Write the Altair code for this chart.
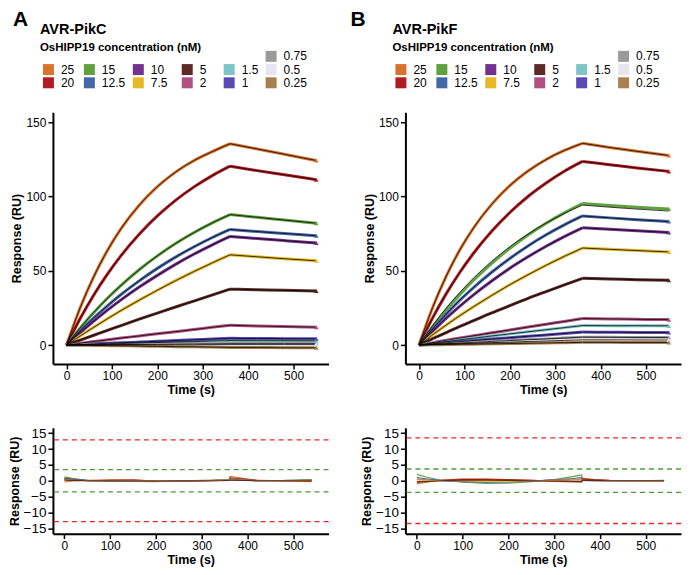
import altair as alt
import pandas as pd

# ---------------- categories / colours ----------------
CONC = ["25", "20", "15", "12.5", "10", "7.5", "5", "2", "1.5", "1", "0.75", "0.5", "0.25"]
COLORS = ["#D9722B", "#B01C22", "#5FA03F", "#4467A7", "#73308C", "#E5B928", "#5C2B27",
          "#B0507F", "#7DC5C7", "#5A4AB5", "#9A9A9A", "#E6E6F0", "#A97F4F"]
LEGEND_COL = [0, 0, 1, 1, 2, 2, 3, 3, 4, 4, 5, 5, 5]
LEGEND_ROW = [1, 2, 1, 2, 1, 2, 1, 2, 1, 2, 0, 1, 2]

# ---------------- sensorgrams (time in s, response in RU) ----------------
TIME = [0, 30, 60, 90, 120, 160, 200, 240, 280, 320, 360, 420, 480, 550]
INJECTION_END = 360

PIKC_25 = [0, 25.1, 46.1, 63.6, 78.3, 94.1, 106.6, 116.4, 124.1, 130.1, 135.5, 132.0, 128.4, 124.2]
PIKC_20 = [0, 17.8, 33.7, 47.7, 60.2, 74.6, 86.9, 97.4, 106.3, 113.9, 120.4, 117.4, 114.6, 111.3]
PIKC_15 = [0, 11.5, 21.9, 31.5, 40.2, 50.7, 60.0, 68.3, 75.6, 82.1, 87.8, 86.0, 84.1, 82.0]
PIKC_12_5 = [0, 9.5, 18.3, 26.4, 34.0, 43.2, 51.6, 59.2, 66.0, 72.2, 77.8, 76.4, 75.1, 73.6]
PIKC_10 = [0, 8.3, 16.1, 23.5, 30.4, 39.0, 46.9, 54.3, 61.1, 67.3, 73.1, 71.7, 70.3, 68.7]
PIKC_7_5 = [0, 6.1, 12.0, 17.7, 23.2, 30.2, 36.9, 43.3, 49.4, 55.2, 60.7, 59.4, 58.1, 56.7]
PIKC_5 = [0, 3.3, 6.6, 9.9, 13.1, 17.4, 21.5, 25.6, 29.6, 33.6, 37.6, 37.2, 36.8, 36.4]
PIKC_2 = [0, 1.2, 2.4, 3.5, 4.7, 6.1, 7.6, 9.0, 10.4, 11.9, 13.3, 12.8, 12.4, 12.0]
PIKC_1_5 = [0, 0.3, 0.5, 0.8, 1.0, 1.3, 1.7, 2.0, 2.3, 2.7, 3.0, 2.9, 2.9, 2.8]
PIKC_1 = [0, 0.4, 0.8, 1.2, 1.5, 2.0, 2.5, 3.0, 3.5, 4.0, 4.5, 4.4, 4.3, 4.2]
PIKC_0_75 = [0, 0.1, 0.2, 0.3, 0.3, 0.4, 0.6, 0.7, 0.8, 0.9, 1.0, 1.0, 1.0, 1.0]
PIKC_0_5 = [0, 0.0, 0.1, 0.1, 0.1, 0.1, 0.2, 0.2, 0.2, 0.3, 0.3, 0.3, 0.3, 0.3]
PIKC_0_25 = [0, -0.1, -0.3, -0.4, -0.5, -0.7, -0.9, -1.1, -1.2, -1.4, -1.6, -1.7, -1.8, -1.9]

PIKF_25 = [0, 25.3, 46.4, 64.1, 78.8, 94.7, 107.3, 117.1, 124.9, 131.0, 135.8, 133.0, 130.4, 127.6]
PIKF_20 = [0, 18.3, 34.6, 49.0, 61.8, 76.6, 89.2, 100.0, 109.1, 117.0, 123.6, 121.4, 119.2, 116.9]
PIKF_15 = [0, 12.4, 23.8, 34.1, 43.6, 55.0, 65.1, 74.1, 82.0, 89.0, 95.3, 94.0, 92.8, 91.6]
PIKF_15_FIT = [0, 13.1, 24.9, 35.5, 45.1, 56.4, 66.2, 74.7, 82.1, 88.6, 94.2, 92.8, 91.5, 90.2]
PIKF_12_5 = [0, 10.9, 20.9, 30.2, 38.7, 49.0, 58.3, 66.7, 74.2, 80.9, 86.9, 85.6, 84.4, 83.1]
PIKF_10 = [0, 9.3, 18.1, 26.2, 33.8, 43.1, 51.7, 59.4, 66.5, 73.0, 78.9, 77.9, 76.9, 75.8]
PIKF_7_5 = [0, 6.9, 13.5, 19.8, 25.8, 33.4, 40.6, 47.3, 53.7, 59.7, 65.3, 64.4, 63.6, 62.7]
PIKF_5 = [0, 4.3, 8.4, 12.5, 16.4, 21.6, 26.5, 31.4, 36.0, 40.5, 44.9, 44.5, 44.0, 43.6]
PIKF_2 = [0, 1.6, 3.2, 4.7, 6.2, 8.2, 10.1, 12.1, 14.0, 15.9, 17.8, 17.6, 17.3, 17.1]
PIKF_1_5 = [0, 1.2, 2.3, 3.5, 4.6, 6.1, 7.5, 8.9, 10.3, 11.7, 13.1, 13.0, 13.0, 12.9]
PIKF_1 = [0, 0.8, 1.5, 2.3, 3.0, 4.0, 4.9, 5.9, 6.8, 7.8, 8.7, 8.6, 8.5, 8.4]
PIKF_0_75 = [0, 0.5, 0.9, 1.4, 1.8, 2.4, 3.0, 3.6, 4.1, 4.7, 5.3, 5.2, 5.1, 5.0]
PIKF_0_5 = [0, 0.3, 0.6, 0.9, 1.2, 1.6, 2.0, 2.4, 2.7, 3.1, 3.5, 3.5, 3.4, 3.4]
PIKF_0_25 = [0, 0.2, 0.3, 0.5, 0.6, 0.8, 1.0, 1.2, 1.4, 1.6, 1.8, 1.8, 1.7, 1.7]

# ---------------- residuals ----------------
RES_TIME = [0, 20, 50, 100, 150, 200, 250, 300, 340, 360, 362, 390, 420, 480, 540]
RES_CONC = ["25", "20", "15", "12.5", "10", "7.5", "5"]

PIKC_RES_25 = [-0.4, -0.1, 0.1, 0.3, 0.3, -0.1, -0.2, 0.0, 0.2, 0.3, 1.4, 0.8, 0.2, -0.1, -0.3]
PIKC_RES_20 = [0.5, 0.3, 0.0, 0.1, 0.2, -0.1, -0.2, 0.0, 0.1, 0.2, 0.9, 0.5, 0.1, 0.0, -0.1]
PIKC_RES_15 = [1.2, 0.7, 0.1, -0.2, -0.2, -0.3, -0.1, 0.1, 0.2, 0.3, 0.6, 0.3, 0.0, 0.1, 0.4]
PIKC_RES_12_5 = [0.8, 0.5, 0.1, -0.1, -0.1, -0.2, -0.1, 0.0, 0.1, 0.2, 0.5, 0.3, 0.0, 0.0, 0.2]
PIKC_RES_10 = [0.6, 0.4, 0.0, -0.1, -0.1, -0.2, -0.1, 0.0, 0.1, 0.1, 0.4, 0.2, 0.0, 0.0, 0.1]
PIKC_RES_7_5 = [0.4, 0.2, 0.0, 0.0, -0.1, -0.1, 0.0, 0.0, 0.1, 0.1, 0.3, 0.2, 0.0, 0.0, 0.1]
PIKC_RES_5 = [0.2, 0.1, 0.0, 0.0, -0.1, -0.1, 0.0, 0.0, 0.0, 0.1, 0.2, 0.1, 0.0, 0.0, 0.0]

PIKF_RES_25 = [-1.0, -0.5, 0.1, 0.6, 0.6, 0.4, 0.1, -0.2, -0.4, -0.5, 0.8, 0.4, 0.1, 0.0, 0.0]
PIKF_RES_20 = [-0.3, -0.1, 0.1, 0.4, 0.4, 0.3, 0.1, -0.1, -0.2, -0.3, 0.5, 0.3, 0.1, 0.0, 0.0]
PIKF_RES_15 = [2.0, 1.2, 0.2, -0.5, -0.9, -0.8, -0.3, 0.4, 1.3, 1.8, 0.2, 0.1, 0.0, 0.0, 0.1]
PIKF_RES_12_5 = [1.0, 0.6, 0.1, -0.3, -0.5, -0.4, -0.1, 0.3, 0.7, 1.0, 0.1, 0.0, 0.0, 0.0, 0.0]
PIKF_RES_10 = [0.5, 0.3, 0.0, -0.2, -0.3, -0.3, -0.1, 0.2, 0.4, 0.5, 0.1, 0.0, 0.0, 0.0, 0.0]
PIKF_RES_7_5 = [0.3, 0.2, 0.0, -0.1, -0.2, -0.2, 0.0, 0.1, 0.3, 0.3, 0.1, 0.0, 0.0, 0.0, 0.0]
PIKF_RES_5 = [-0.5, -0.3, 0.0, 0.2, 0.2, 0.1, 0.0, -0.1, -0.2, -0.2, 0.2, 0.1, 0.0, 0.0, 0.0]

# residual limit lines (RU)
PIKC_LIMITS = [-12.9, -3.5, 3.5, 12.9]
PIKF_LIMITS = [-13.5, -3.7, 3.7, 13.5]
LIMIT_KIND = ["red", "green", "green", "red"]

FONT = "Liberation Sans"
W, H_HEAD, H_MAIN, H_RES = 276, 40, 252, 106


def long_df(times, lists, concs, split=False):
    rows = []
    for c, vals in zip(concs, lists):
        for t, v in zip(times, vals):
            if split:
                if t <= INJECTION_END:
                    rows.append({"t": t, "v": v, "conc": c, "phase": "assoc"})
                if t >= INJECTION_END:
                    rows.append({"t": t, "v": v, "conc": c, "phase": "dissoc"})
            else:
                rows.append({"t": t, "v": v, "conc": c})
    return pd.DataFrame(rows)


color_enc = alt.Color("conc:N", scale=alt.Scale(domain=CONC, range=COLORS), legend=None)


def header(letter, name, letter_x):
    leg = pd.DataFrame({"conc": CONC, "col": LEGEND_COL, "row": LEGEND_ROW})
    xs = alt.X("col:Q", scale=alt.Scale(domain=[0, 1, 2, 3, 4, 5],
                                          range=[-4.5, 36.5, 85.5, 134.5, 176.5, 218.5]), axis=None)
    ys = alt.Y("row:Q", scale=alt.Scale(domain=[0, 2], range=[48, 74.5]), axis=None)
    sw = alt.Chart(leg).mark_square(size=121, opacity=1, filled=True).encode(x=xs, y=ys, color=color_enc)
    lab = alt.Chart(leg).mark_text(align="left", baseline="middle", dx=12.5, fontSize=12,
                                    font=FONT, color="black").encode(x=xs, y=ys, text="conc:N")
    t1 = alt.Chart(pd.DataFrame({"s": [letter]})).mark_text(
        align="left", baseline="alphabetic", fontSize=21, fontWeight="bold", font=FONT, color="black"
    ).encode(text="s:N", x=alt.value(letter_x), y=alt.value(18))
    t2 = alt.Chart(pd.DataFrame({"s": [name]})).mark_text(
        align="left", baseline="alphabetic", fontSize=14.5, fontWeight="bold", font=FONT, color="black"
    ).encode(text="s:N", x=alt.value(-13), y=alt.value(26))
    t3 = alt.Chart(pd.DataFrame({"s": ["OsHIPP19 concentration (nM)"]})).mark_text(
        align="left", baseline="alphabetic", fontSize=11.5, fontWeight="bold", font=FONT, color="black"
    ).encode(text="s:N", x=alt.value(-13), y=alt.value(43))
    return alt.layer(sw, lab, t1, t2, t3).properties(width=W, height=H_HEAD)


def sensorgram(data_lists, fit_lists):
    df = long_df(TIME, data_lists, CONC, split=True)
    dfit = long_df(TIME, fit_lists, CONC, split=True)
    dend = df[df["t"] == TIME[-1]]
    x = alt.X("t:Q", scale=alt.Scale(domain=[-30, 577], nice=False, zero=False),
              axis=alt.Axis(values=[0, 100, 200, 300, 400, 500], title="Time (s)"))
    y = alt.Y("v:Q", scale=alt.Scale(domain=[-12.7, 156.7], nice=False, zero=False),
              axis=alt.Axis(values=[0, 50, 100, 150], title="Response (RU)"))
    lines = alt.Chart(df).mark_line(strokeWidth=3, interpolate="monotone").encode(
        x=x, y=y, color=color_enc, detail="phase:N")
    fits = alt.Chart(dfit).mark_line(strokeWidth=0.75, color="black", interpolate="monotone").encode(
        x=x, y=y, detail=["conc:N", "phase:N"])
    ends = alt.Chart(dend).mark_point(shape="triangle-up", filled=True, size=22, opacity=1).encode(
        x=x, y=y, color=color_enc)
    return alt.layer(lines, fits, ends).properties(width=W, height=H_MAIN)


def residual(res_lists, limits):
    df = long_df(RES_TIME, res_lists, RES_CONC)
    lim = pd.DataFrame({"y": limits, "kind": LIMIT_KIND})
    x = alt.X("t:Q", scale=alt.Scale(domain=[-25, 577], nice=False, zero=False),
              axis=alt.Axis(values=[0, 100, 200, 300, 400, 500], title="Time (s)"))
    yax = alt.Axis(values=[-15, -10, -5, 0, 5, 10, 15], title="Response (RU)", labelFontSize=13.5)
    yscale = alt.Scale(domain=[-16.7, 16.7], nice=False, zero=False)
    rules = alt.Chart(lim).mark_rule(strokeDash=[5, 4], strokeWidth=1.3).encode(
        y=alt.Y("y:Q", scale=yscale, axis=yax),
        color=alt.Color("kind:N", scale=alt.Scale(domain=["red", "green"], range=["#E8282B", "#4E9A3C"]),
                        legend=None))
    lines = alt.Chart(df).mark_line(strokeWidth=1.1).encode(
        x=x, y=alt.Y("v:Q", scale=yscale, axis=yax),
        color=alt.Color("conc:N", scale=alt.Scale(domain=CONC, range=COLORS), legend=None))
    return alt.layer(rules, lines).resolve_scale(color="independent").properties(width=W, height=H_RES)


pikc_data = [PIKC_25, PIKC_20, PIKC_15, PIKC_12_5, PIKC_10, PIKC_7_5, PIKC_5, PIKC_2,
             PIKC_1_5, PIKC_1, PIKC_0_75, PIKC_0_5, PIKC_0_25]
pikf_data = [PIKF_25, PIKF_20, PIKF_15, PIKF_12_5, PIKF_10, PIKF_7_5, PIKF_5, PIKF_2,
             PIKF_1_5, PIKF_1, PIKF_0_75, PIKF_0_5, PIKF_0_25]
pikf_fit = [PIKF_25, PIKF_20, PIKF_15_FIT, PIKF_12_5, PIKF_10, PIKF_7_5, PIKF_5, PIKF_2,
            PIKF_1_5, PIKF_1, PIKF_0_75, PIKF_0_5, PIKF_0_25]
pikc_res = [PIKC_RES_25, PIKC_RES_20, PIKC_RES_15, PIKC_RES_12_5, PIKC_RES_10, PIKC_RES_7_5, PIKC_RES_5]
pikf_res = [PIKF_RES_25, PIKF_RES_20, PIKF_RES_15, PIKF_RES_12_5, PIKF_RES_10, PIKF_RES_7_5, PIKF_RES_5]

chart = alt.concat(
    header("A", "AVR-PikC", -40), header("B", "AVR-PikF", -55),
    sensorgram(pikc_data, pikc_data), sensorgram(pikf_data, pikf_fit),
    residual(pikc_res, PIKC_LIMITS), residual(pikf_res, PIKF_LIMITS),
    columns=2, spacing={"row": 64, "column": 77}, bounds="flush", align="each",
).properties(
    padding={"left": 0, "top": 0, "right": 0, "bottom": 0}
).configure_view(stroke=None).configure_axis(
    domainColor="black", domainWidth=2, tickColor="black", tickWidth=1.5, tickSize=5,
    labelColor="black", labelFont=FONT, labelFontSize=12, titleFont=FONT, titleFontSize=12.5,
    titleFontWeight="bold", titleColor="black", grid=False, labelPadding=2, titlePadding=2,
)

chart.save("out.html", embed_options={"renderer": "svg", "actions": False})
